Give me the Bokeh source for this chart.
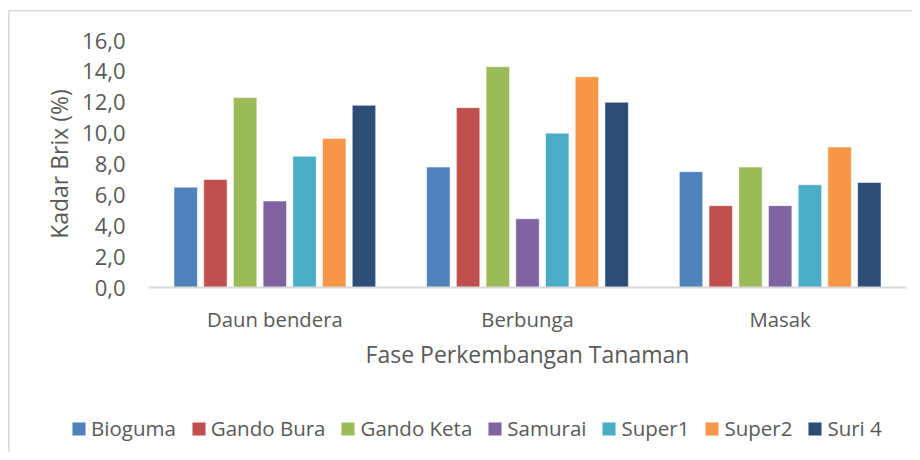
from bokeh.plotting import figure
from bokeh.models import (ColumnDataSource, Range1d, FixedTicker, Legend, LegendItem)
from bokeh.transform import dodge
from bokeh.embed import file_html
from bokeh.resources import INLINE

phases = ["Daun bendera", "Berbunga", "Masak"]
varieties = ["Bioguma", "Gando Bura", "Gando Keta", "Samurai", "Super1", "Super2", "Suri 4"]
bioguma = [6.5, 7.8, 7.5]
gando_bura = [7.0, 11.65, 5.3]
gando_keta = [12.3, 14.3, 7.8]
samurai = [5.6, 4.45, 5.3]
super1 = [8.5, 10.0, 6.65]
super2 = [9.65, 13.65, 9.1]
suri4 = [11.8, 12.0, 6.8]
y_ticks = [0, 2, 4, 6, 8, 10, 12, 14, 16]
y_tick_labels = ["0,0", "2,0", "4,0", "6,0", "8,0", "10,0", "12,0", "14,0", "16,0"]
colors = ["#4F81BD", "#C0504D", "#9BBB59", "#8064A2", "#4BACC6", "#F79646", "#2C4D75"]

series = [bioguma, gando_bura, gando_keta, samurai, super1, super2, suri4]
centers = [k + 0.5 for k in range(len(phases))]
data = {"xc": centers}
for name, vals in zip(varieties, series):
    data[name] = vals
source = ColumnDataSource(data)

FONT = "Open Sans"
TXT = "#595959"
GRID = "#d9d9d9"

W, H = 912, 452
# frame = whole canvas; axes are pinned at x=0 / y=0 inside it
px_x = 252.67          # pixels per category
x0_px, y0_px, y16_px = 148, 287, 40
px_y = (y0_px - y16_px) / 16.0
x_range = Range1d(-x0_px / px_x, (W - x0_px) / px_x)
y_range = Range1d(-(H - y0_px) / px_y, 16 + y16_px / px_y)

p = figure(width=W, height=H, output_backend="svg", toolbar_location=None,
           x_range=x_range, y_range=y_range,
           min_border=0, min_border_left=0, min_border_right=0,
           min_border_top=0, min_border_bottom=0)
p.background_fill_color = None
p.border_fill_color = None
p.styles = {
    "background": ("linear-gradient(#d9d9d9, #d9d9d9) 8px 10px / 100% 1.5px no-repeat, "
                   "linear-gradient(#d9d9d9, #d9d9d9) 8px 10px / 1.5px 100% no-repeat, white"),
}
p.outline_line_color = None
p.grid.grid_line_color = None

pitch = 0.1176
renderers = []
for i, (name, col) in enumerate(zip(varieties, colors)):
    r = p.vbar(x=dodge("xc", (i - 3) * pitch), top=name,
               width=0.0926, source=source, fill_color=col,
               line_color="white", line_alpha=0.5, line_width=1)
    renderers.append(r)

# y axis
p.yaxis.fixed_location = 0
p.yaxis.bounds = (0, 16)
p.yaxis.ticker = FixedTicker(ticks=y_ticks)
p.yaxis.major_label_overrides = {t: l for t, l in zip(y_ticks, y_tick_labels)}
p.yaxis.axis_line_color = None
p.yaxis.major_tick_line_color = None
p.yaxis.major_tick_out = 0
p.yaxis.major_tick_in = 0
p.yaxis.minor_tick_line_color = None
p.yaxis.major_label_standoff = 23
p.yaxis.major_label_text_font_size = "22px"
p.yaxis.axis_label = "Kadar Brix (%)"
p.yaxis.axis_label_standoff = 4

# x axis
p.xaxis.fixed_location = 0
p.xaxis.bounds = (0, len(phases))
p.xaxis.ticker = FixedTicker(ticks=centers)
p.xaxis.major_label_overrides = {c: n for c, n in zip(centers, phases)}
p.xaxis.axis_line_color = GRID
p.xaxis.axis_line_width = 2
p.xaxis.major_tick_line_color = None
p.xaxis.major_tick_out = 0
p.xaxis.major_tick_in = 0
p.xaxis.minor_tick_line_color = None
p.xaxis.major_label_standoff = 17
p.xaxis.major_label_text_font_size = "20.3px"
p.xaxis.axis_label = "Fase Perkembangan Tanaman"
p.xaxis.axis_label_standoff = 2

for ax in (p.xaxis, p.yaxis):
    ax.major_label_text_font = FONT
    ax.major_label_text_color = TXT
    ax.axis_label_text_font = FONT
    ax.axis_label_text_font_size = "23px"
    ax.axis_label_text_font_style = "normal"
    ax.axis_label_text_color = TXT

legend = Legend(items=[LegendItem(label=n, renderers=[r]) for n, r in zip(varieties, renderers)],
                orientation="horizontal", location=(70, 10),
                label_text_font=FONT, label_text_font_size="20.5px",
                label_text_color=TXT, glyph_width=17, glyph_height=17,
                label_standoff=4, spacing=14, padding=0, margin=0,
                border_line_color=None, background_fill_alpha=0)
p.add_layout(legend, "center")

open("out.html", "w").write(file_html(p, INLINE))
